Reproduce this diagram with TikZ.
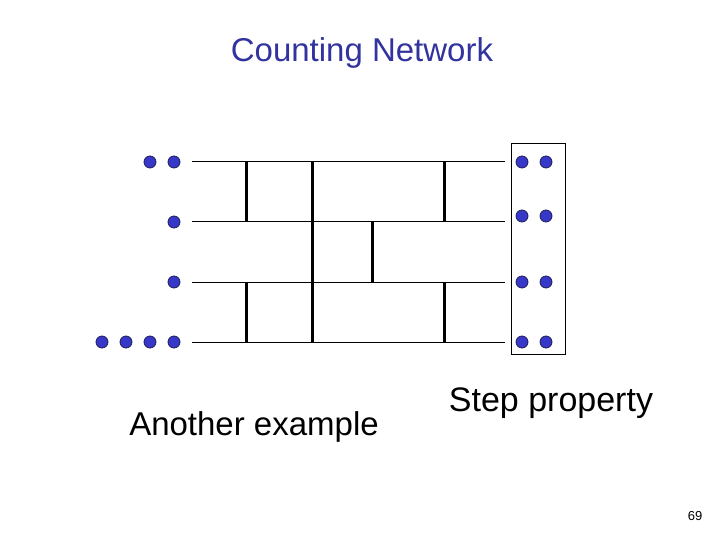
\documentclass[tikz,border=0pt]{standalone}
\usepackage{fontspec}
\setmainfont{Liberation Sans}
\definecolor{titleblue}{RGB}{51,51,160}
\definecolor{dotblue}{RGB}{55,55,200}
\definecolor{dotedge}{RGB}{30,30,90}
\begin{document}
\begin{tikzpicture}[x=1pt,y=-1pt,
  wire/.style={line width=1pt},
  bal/.style={line width=3pt},
  tok/.style={circle,fill=dotblue,draw=dotedge,line width=0.8pt,minimum size=12pt,inner sep=0pt},
  lbl/.style={inner sep=0pt,anchor=center}]
\useasboundingbox (0,0) rectangle (720,540);
% title
\node[lbl,text=titleblue,font=\fontsize{33}{36}\selectfont] (title) at (362,53) {Counting Network};
% wire endpoints
\foreach \i/\y in {1/162,2/222,3/282,4/342}{
  \coordinate (L\i) at (192,\y);
  \coordinate (R\i) at (505,\y);
}
\foreach \i in {1,2,3,4}{ \draw[wire] (L\i) -- (R\i); }
% balancers
\draw[bal] (246,162) -- (246,222);
\draw[bal] (246,282) -- (246,342);
\draw[bal] (312,162) -- (312,342);
\draw[bal] (372,222) -- (372,282);
\draw[bal] (444,162) -- (444,222);
\draw[bal] (444,282) -- (444,342);
% input tokens
\node[tok] (a1) at (150,162) {};
\node[tok] (a2) at (174,162) {};
\node[tok] (b1) at (174,222) {};
\node[tok] (c1) at (174,282) {};
\node[tok] (d1) at (102,342) {};
\node[tok] (d2) at (126,342) {};
\node[tok] (d3) at (150,342) {};
\node[tok] (d4) at (174,342) {};
% output box
\draw[line width=1pt] (511,144) rectangle (565,354);
\foreach \i/\y in {1/162,2/216,3/282,4/342}{
  \node[tok] (o\i a) at (522,\y) {};
  \node[tok] (o\i b) at (546,\y) {};
}
% labels
\node[lbl,font=\fontsize{33}{36}\selectfont] (another) at (254,427) {Another example};
\node[lbl,font=\fontsize{34}{37}\selectfont] (step) at (551,403) {Step property};
\node[lbl,font=\fontsize{13}{15}\selectfont] (pg) at (695,516) {69};
\end{tikzpicture}
\end{document}
